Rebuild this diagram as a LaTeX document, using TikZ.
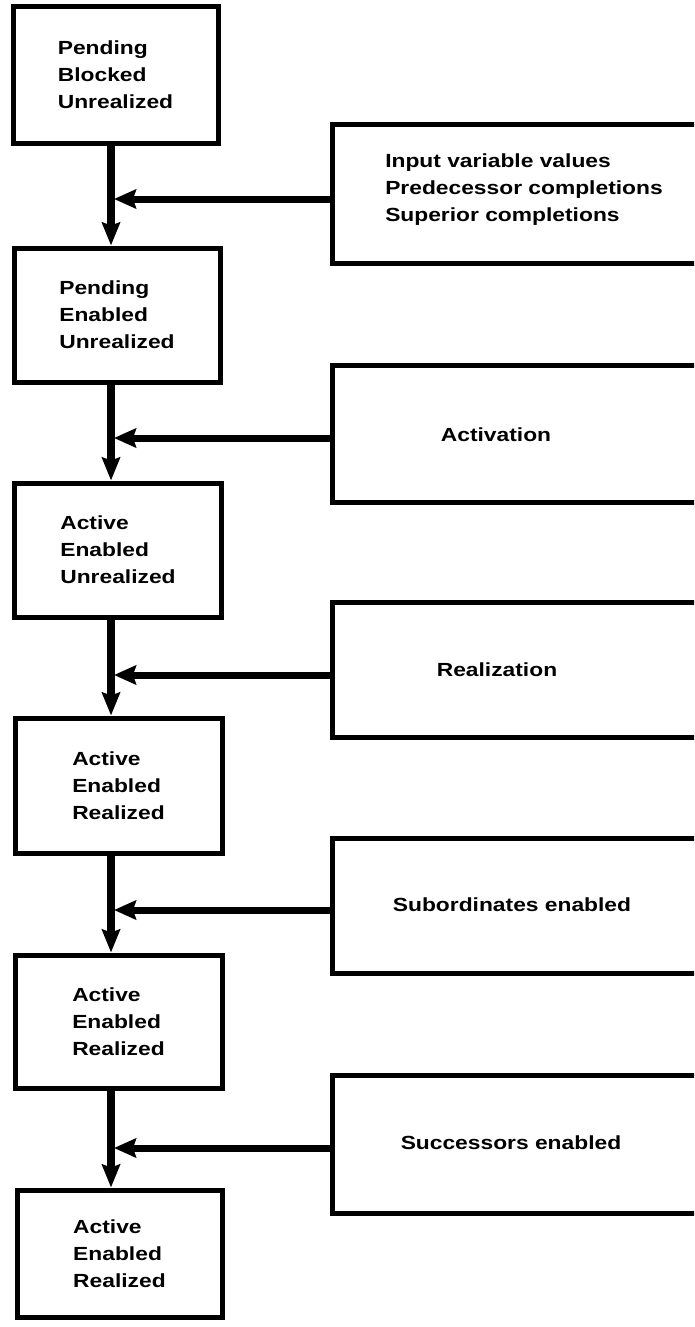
\documentclass[tikz,border=0pt]{standalone}
\usepackage{fontspec}
\newfontfamily\lblfont{Liberation Sans}[FakeStretch=1.2]
\usetikzlibrary{arrows.meta}
\tikzset{
  txt/.style={font=\lblfont\bfseries\fontsize{19}{27}\selectfont},
  statebox/.style={draw, line width=5pt, rectangle, inner sep=0pt, align=left, txt},
  eventbox/.style={draw, line width=5pt, rectangle, inner sep=0pt, anchor=west, minimum width=440pt},
  lbl/.style={inner sep=0pt, align=left, txt},
  vflow/.style={line width=8pt, -{Stealth[length=23pt, width=18pt, inset=3pt]}},
  hflow/.style={line width=7pt, -{Stealth[length=22pt, width=19pt, inset=3pt]}},
}
\begin{document}
\begin{tikzpicture}[x=1pt, y=-1pt]
\useasboundingbox (0,0) rectangle (694,1327);
\clip (0,0) rectangle (694,1327);

% state boxes
\node[statebox, minimum width=205pt, minimum height=136pt] (b1) at (115.5,75) {Pending\\Blocked\\Unrealized};
\node[statebox, minimum width=206pt, minimum height=134pt] (b2) at (117,315) {Pending\\Enabled\\Unrealized};
\node[statebox, minimum width=207pt, minimum height=134pt] (b3) at (118,550) {Active\\Enabled\\Unrealized};
\node[statebox, minimum width=207pt, minimum height=135pt] (b4) at (118.5,785.5) {Active\\Enabled\\Realized};
\node[statebox, minimum width=207pt, minimum height=133pt] (b5) at (118.5,1021.5) {Active\\Enabled\\Realized};
\node[statebox, minimum width=205pt, minimum height=127pt] (b6) at (119.5,1253.5) {Active\\Enabled\\Realized};

% event boxes (open to the right edge)
\node[eventbox, minimum height=138pt] (e1) at (330,194) {};
\node[eventbox, minimum height=137pt] (e2) at (330,433.5) {};
\node[eventbox, minimum height=135pt] (e3) at (330,669.5) {};
\node[eventbox, minimum height=135pt] (e4) at (330,905.5) {};
\node[eventbox, minimum height=138pt] (e5) at (330,1144) {};

\node[lbl] (t1) at (524,190) {Input variable values\\Predecessor completions\\Superior completions};
\node[lbl] (t2) at (496,435) {Activation};
\node[lbl] (t3) at (497,670) {Realization};
\node[lbl] (t4) at (512,905) {Subordinates enabled};
\node[lbl] (t5) at (511,1143) {Successors enabled};

% trunk and junctions
\coordinate (tx) at (111,0);
\coordinate (j1) at (114,199);
\coordinate (j2) at (114,438);
\coordinate (j3) at (114,675);
\coordinate (j4) at (114,910);
\coordinate (j5) at (114,1148);

\draw[vflow] (b1.south -| tx) -- (b2.north -| tx);
\draw[vflow] (b2.south -| tx) -- (b3.north -| tx);
\draw[vflow] (b3.south -| tx) -- (b4.north -| tx);
\draw[vflow] (b4.south -| tx) -- (b5.north -| tx);
\draw[vflow] (b5.south -| tx) -- (b6.north -| tx);

\draw[hflow] (e1.west |- j1) -- (j1);
\draw[hflow] (e2.west |- j2) -- (j2);
\draw[hflow] (e3.west |- j3) -- (j3);
\draw[hflow] (e4.west |- j4) -- (j4);
\draw[hflow] (e5.west |- j5) -- (j5);
\end{tikzpicture}
\end{document}
